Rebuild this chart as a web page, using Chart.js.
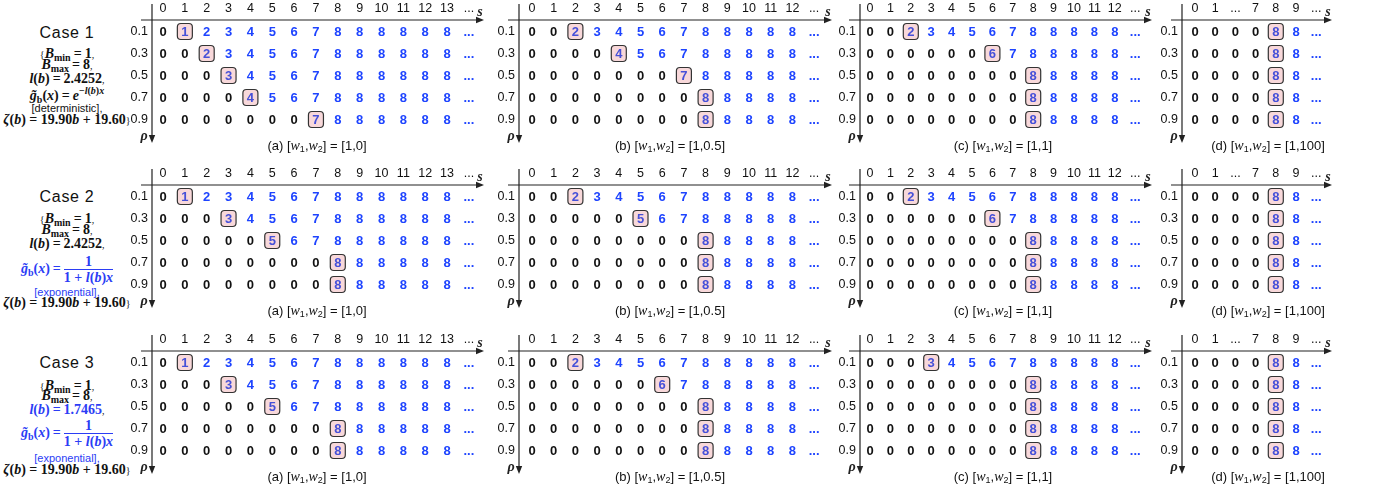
<!DOCTYPE html>
<html>
<head>
<meta charset="utf-8">
<script src="https://cdn.jsdelivr.net/npm/chart.js@4.4.1/dist/chart.umd.min.js"></script>
<style>
  html, body { margin: 0; padding: 0; background: #fff; }
  body { position: relative; width: 1387px; height: 491px; overflow: hidden;
         font-family: "Liberation Sans", Arial, Helvetica, sans-serif; color: #111; }
  canvas.panel { position: absolute; }
  .ln { position: absolute; left: 0; width: 134px; text-align: center; white-space: nowrap; line-height: 16px; height: 16px; }
  .case { font-size: 16px; letter-spacing: 0.7px; }
  .math { font-family: "Liberation Serif", "DejaVu Serif", serif; font-size: 14px; font-weight: bold; }
  .math sub { font-size: 10px; vertical-align: baseline; position: relative; top: 3px; font-weight: bold; }
  .math sup { font-size: 10px; vertical-align: baseline; position: relative; top: -6px; }
  .eq { margin: 0 3px; }
  .sm { font-size: 10px; font-weight: normal; }
  .note { font-size: 11px; }
  .blue { color: #2b3df5; }
  .frac { display: inline-block; vertical-align: middle; text-align: center; }
  .frac .num { display: block; border-bottom: 1.4px solid #2b3df5; line-height: 15px; padding: 0 1px; }
  .frac .den { display: block; line-height: 16px; }
  .cap { position: absolute; font-size: 13px; white-space: nowrap; transform: translateX(-50%); line-height: 14px; }
  .cap i { font-family: "Liberation Serif", "DejaVu Serif", serif; font-size: 14px; }
  .cap sub { font-size: 9px; vertical-align: baseline; position: relative; top: 2px; }
</style>
</head>
<body>

<!-- Case 1 -->
<div class="ln case" style="top:25px">Case 1</div>
<div class="ln math" style="top:46px"><span class="sm">{</span><i>B</i><sub>min</sub><span class="eq">=</span>1<span class="sm">,</span></div>
<div class="ln math" style="top:57px"><i>B</i><sub>max</sub><span class="eq">=</span>8<span class="sm">,</span></div>
<div class="ln math" style="top:71px"><i>l</i>(<i>b</i>)<span class="eq">=</span>2.4252<span class="sm">,</span></div>
<div class="ln math" style="top:88px"><i>g̃</i><sub>b</sub>(<i>x</i>)<span class="eq">=</span><i>e</i><sup>−<i>l</i>(<i>b</i>)<i>x</i></sup></div>
<div class="ln note" style="top:100px">[deterministic],</div>
<div class="ln math" style="top:112px"><i>ζ</i>(<i>b</i>) = 19.90<i>b</i> + 19.60<span class="sm">}</span></div>

<!-- Case 2 -->
<div class="ln case" style="top:189px">Case 2</div>
<div class="ln math" style="top:211px"><span class="sm">{</span><i>B</i><sub>min</sub><span class="eq">=</span>1<span class="sm">,</span></div>
<div class="ln math" style="top:222px"><i>B</i><sub>max</sub><span class="eq">=</span>8<span class="sm">,</span></div>
<div class="ln math" style="top:236px"><i>l</i>(<i>b</i>)<span class="eq">=</span>2.4252<span class="sm">,</span></div>
<div class="ln math blue" style="top:254px"><i>g̃</i><sub>b</sub>(<i>x</i>)<span class="eq">=</span><span class="frac"><span class="num">1</span><span class="den">1 + <i>l</i>(<i>b</i>)<i>x</i></span></span></div>
<div class="ln note blue" style="top:284px">[exponential],</div>
<div class="ln math" style="top:295px"><i>ζ</i>(<i>b</i>) = 19.90<i>b</i> + 19.60<span class="sm">}</span></div>

<!-- Case 3 -->
<div class="ln case" style="top:355px">Case 3</div>
<div class="ln math" style="top:378px"><span class="sm">{</span><i>B</i><sub>min</sub><span class="eq">=</span>1<span class="sm">,</span></div>
<div class="ln math" style="top:388px"><i>B</i><sub>max</sub><span class="eq">=</span>8<span class="sm">,</span></div>
<div class="ln math blue" style="top:402px"><i>l</i>(<i>b</i>)<span class="eq">=</span>1.7465<span class="sm" style="color:#111">,</span></div>
<div class="ln math blue" style="top:418px"><i>g̃</i><sub>b</sub>(<i>x</i>)<span class="eq">=</span><span class="frac"><span class="num">1</span><span class="den">1 + <i>l</i>(<i>b</i>)<i>x</i></span></span></div>
<div class="ln note blue" style="top:450px">[exponential],</div>
<div class="ln math" style="top:462px"><i>ζ</i>(<i>b</i>) = 19.90<i>b</i> + 19.60<span class="sm">}</span></div>

<script>
// ---- axis labels ----
const rhoLabels = ['0.1', '0.3', '0.5', '0.7', '0.9'];
const colsA = ['0','1','2','3','4','5','6','7','8','9','10','11','12','13','...'];
const colsBC = ['0','1','2','3','4','5','6','7','8','9','10','11','12','...'];
const colsD = ['0','1','...','7','8','9','...'];
const captions = ['(a)', '(b)', '(c)', '(d)'];
const weights = ['[1,0]', '[1,0.5]', '[1,1]', '[1,100]'];

// ---- Case 1: batch size chosen for each (rho, s) ----
const case1a = [
  [0,1,2,3,4,5,6,7,8,8,8,8,8,8],
  [0,0,2,3,4,5,6,7,8,8,8,8,8,8],
  [0,0,0,3,4,5,6,7,8,8,8,8,8,8],
  [0,0,0,0,4,5,6,7,8,8,8,8,8,8],
  [0,0,0,0,0,0,0,7,8,8,8,8,8,8]
];
const case1aBox = [1,2,3,4,7];
const case1b = [
  [0,0,2,3,4,5,6,7,8,8,8,8,8],
  [0,0,0,0,4,5,6,7,8,8,8,8,8],
  [0,0,0,0,0,0,0,7,8,8,8,8,8],
  [0,0,0,0,0,0,0,0,8,8,8,8,8],
  [0,0,0,0,0,0,0,0,8,8,8,8,8]
];
const case1bBox = [2,4,7,8,8];
const case1c = [
  [0,0,2,3,4,5,6,7,8,8,8,8,8],
  [0,0,0,0,0,0,6,7,8,8,8,8,8],
  [0,0,0,0,0,0,0,0,8,8,8,8,8],
  [0,0,0,0,0,0,0,0,8,8,8,8,8],
  [0,0,0,0,0,0,0,0,8,8,8,8,8]
];
const case1cBox = [2,6,8,8,8];
const case1d = [
  [0,0,0,0,8,8],
  [0,0,0,0,8,8],
  [0,0,0,0,8,8],
  [0,0,0,0,8,8],
  [0,0,0,0,8,8]
];
const case1dBox = [4,4,4,4,4];

// ---- Case 2 ----
const case2a = [
  [0,1,2,3,4,5,6,7,8,8,8,8,8,8],
  [0,0,0,3,4,5,6,7,8,8,8,8,8,8],
  [0,0,0,0,0,5,6,7,8,8,8,8,8,8],
  [0,0,0,0,0,0,0,0,8,8,8,8,8,8],
  [0,0,0,0,0,0,0,0,8,8,8,8,8,8]
];
const case2aBox = [1,3,5,8,8];
const case2b = [
  [0,0,2,3,4,5,6,7,8,8,8,8,8],
  [0,0,0,0,0,5,6,7,8,8,8,8,8],
  [0,0,0,0,0,0,0,0,8,8,8,8,8],
  [0,0,0,0,0,0,0,0,8,8,8,8,8],
  [0,0,0,0,0,0,0,0,8,8,8,8,8]
];
const case2bBox = [2,5,8,8,8];
const case2c = [
  [0,0,2,3,4,5,6,7,8,8,8,8,8],
  [0,0,0,0,0,0,6,7,8,8,8,8,8],
  [0,0,0,0,0,0,0,0,8,8,8,8,8],
  [0,0,0,0,0,0,0,0,8,8,8,8,8],
  [0,0,0,0,0,0,0,0,8,8,8,8,8]
];
const case2cBox = [2,6,8,8,8];
const case2d = [
  [0,0,0,0,8,8],
  [0,0,0,0,8,8],
  [0,0,0,0,8,8],
  [0,0,0,0,8,8],
  [0,0,0,0,8,8]
];
const case2dBox = [4,4,4,4,4];

// ---- Case 3 ----
const case3a = [
  [0,1,2,3,4,5,6,7,8,8,8,8,8,8],
  [0,0,0,3,4,5,6,7,8,8,8,8,8,8],
  [0,0,0,0,0,5,6,7,8,8,8,8,8,8],
  [0,0,0,0,0,0,0,0,8,8,8,8,8,8],
  [0,0,0,0,0,0,0,0,8,8,8,8,8,8]
];
const case3aBox = [1,3,5,8,8];
const case3b = [
  [0,0,2,3,4,5,6,7,8,8,8,8,8],
  [0,0,0,0,0,0,6,7,8,8,8,8,8],
  [0,0,0,0,0,0,0,0,8,8,8,8,8],
  [0,0,0,0,0,0,0,0,8,8,8,8,8],
  [0,0,0,0,0,0,0,0,8,8,8,8,8]
];
const case3bBox = [2,6,8,8,8];
const case3c = [
  [0,0,0,3,4,5,6,7,8,8,8,8,8],
  [0,0,0,0,0,0,0,0,8,8,8,8,8],
  [0,0,0,0,0,0,0,0,8,8,8,8,8],
  [0,0,0,0,0,0,0,0,8,8,8,8,8],
  [0,0,0,0,0,0,0,0,8,8,8,8,8]
];
const case3cBox = [3,8,8,8,8];
const case3d = [
  [0,0,0,0,8,8],
  [0,0,0,0,8,8],
  [0,0,0,0,8,8],
  [0,0,0,0,8,8],
  [0,0,0,0,8,8]
];
const case3dBox = [4,4,4,4,4];

const grids = [
  [[case1a, case1aBox], [case1b, case1bBox], [case1c, case1cBox], [case1d, case1dBox]],
  [[case2a, case2aBox], [case2b, case2bBox], [case2c, case2cBox], [case2d, case2dBox]],
  [[case3a, case3aBox], [case3b, case3bBox], [case3c, case3cBox], [case3d, case3dBox]]
];
const columnSets = [colsA, colsBC, colsBC, colsD];

// ---- layout of one row of panels (page pixels) ----
const rowTops = [0, 165, 331];
const panelGeom = [
  { axisX: 152, tipX: 484, firstCol: 163, step: 21.85, capX: 317 },
  { axisX: 519, tipX: 832, firstCol: 532, step: 21.7,  capX: 670 },
  { axisX: 860, tipX: 1152, firstCol: 870, step: 20.4, capX: 1003 },
  { axisX: 1182, tipX: 1332, firstCol: 1195, step: 20.2, capX: 1268 }
];
const Y_AXIS_W = 34, X_AXIS_H = 20, CANVAS_H = 160, AREA_BOTTOM = 142;
const ROW_FIRST = 12, ROW_STEP = 22;

const COLORS = { pre: '#111111', post: '#1e44ff', boxText: '#4650d8', boxFill: '#f8d8da', boxLine: '#333333', axis: '#222222' };
const SANS = '"Liberation Sans", Arial, Helvetica, sans-serif';
const SERIF = '"Liberation Serif", "DejaVu Serif", serif';

function arrowHead(ctx, x, y, dir) {
  ctx.beginPath();
  if (dir === 'right') { ctx.moveTo(x, y); ctx.lineTo(x - 8, y - 3.2); ctx.lineTo(x - 8, y + 3.2); }
  else { ctx.moveTo(x, y); ctx.lineTo(x - 3.2, y - 8); ctx.lineTo(x + 3.2, y - 8); }
  ctx.closePath();
  ctx.fill();
}

// draws the cell values, the highlighted cells and the arrowed axes
const cellPlugin = {
  id: 'cells',
  afterDatasetsDraw(chart) {
    const ctx = chart.ctx;
    const area = chart.chartArea;
    ctx.save();
    // axes with arrows
    ctx.strokeStyle = COLORS.axis; ctx.fillStyle = COLORS.axis; ctx.lineWidth = 1.2;
    ctx.beginPath();
    ctx.moveTo(area.left - 11, area.top); ctx.lineTo(area.right - 4, area.top);
    ctx.moveTo(area.left, area.top - 16); ctx.lineTo(area.left, area.bottom - 4);
    ctx.stroke();
    arrowHead(ctx, area.right, area.top, 'right');
    arrowHead(ctx, area.left, area.bottom + 1, 'down');
    ctx.font = 'italic bold 14px ' + SERIF;
    ctx.textAlign = 'center'; ctx.textBaseline = 'alphabetic';
    ctx.fillText('s', area.right - 4, area.top - 4);
    ctx.fillText('ρ', area.left - 8, area.bottom - 2);

    // cells
    chart.data.datasets.forEach((ds, di) => {
      const meta = chart.getDatasetMeta(di);
      meta.data.forEach((pt, i) => {
        const cell = ds.data[i];
        const x = pt.x, y = pt.y;
        if (cell.kind === 'box') {
          const w = 15, h = 16;
          ctx.beginPath();
          ctx.roundRect(x - w / 2, y - h / 2 - 0.5, w, h, 3.5);
          ctx.fillStyle = COLORS.boxFill; ctx.fill();
          ctx.strokeStyle = COLORS.boxLine; ctx.lineWidth = 1.2; ctx.stroke();
        }
        ctx.fillStyle = cell.kind === 'pre' ? COLORS.pre : (cell.kind === 'box' ? COLORS.boxText : COLORS.post);
        ctx.font = 'bold 13px ' + SANS;
        ctx.textAlign = 'center'; ctx.textBaseline = 'middle';
        ctx.fillText(String(cell.v), x, y + 0.5);
      });
    });
    ctx.restore();
  }
};

function buildDatasets(values, boxes, nCols) {
  return values.map((row, r) => {
    const pts = row.map((v, c) => ({ x: c, y: r, v, kind: c < boxes[r] ? 'pre' : (c === boxes[r] ? 'box' : 'post') }));
    pts.push({ x: nCols - 1, y: r, v: '...', kind: 'post' });
    return { data: pts, pointRadius: 0, pointHoverRadius: 0, showLine: false };
  });
}

function makePanel(rowIdx, colIdx) {
  const g = panelGeom[colIdx];
  const cols = columnSets[colIdx];
  const [values, boxes] = grids[rowIdx][colIdx];
  const canvasLeft = g.axisX - Y_AXIS_W;
  const canvasW = g.tipX - canvasLeft + 6;
  const top = rowTops[rowIdx];

  const cv = document.createElement('canvas');
  cv.className = 'panel';
  cv.width = canvasW; cv.height = CANVAS_H;
  cv.style.left = canvasLeft + 'px'; cv.style.top = top + 'px';
  cv.style.width = canvasW + 'px'; cv.style.height = CANVAS_H + 'px';
  document.body.appendChild(cv);

  const areaW = g.tipX - g.axisX;
  const xMin = -(g.firstCol - g.axisX) / g.step;
  const xMax = xMin + areaW / g.step;
  const areaH = AREA_BOTTOM - X_AXIS_H;
  const yMin = -ROW_FIRST / ROW_STEP;
  const yMax = yMin + areaH / ROW_STEP;

  new Chart(cv, {
    type: 'scatter',
    data: { datasets: buildDatasets(values, boxes, cols.length) },
    options: {
      responsive: false, animation: false, events: [],
      layout: { padding: { left: 0, top: 0, right: canvasW - Y_AXIS_W - areaW, bottom: CANVAS_H - AREA_BOTTOM } },
      plugins: { legend: { display: false }, tooltip: { enabled: false } },
      scales: {
        x: {
          type: 'linear', position: 'top', min: xMin, max: xMax,
          grid: { display: false, drawTicks: false }, border: { display: false },
          afterBuildTicks: s => { s.ticks = cols.map((_, i) => ({ value: i })); },
          afterFit: s => { s.height = X_AXIS_H; },
          ticks: { autoSkip: false, maxRotation: 0, padding: 4, color: '#111',
                   font: { family: SANS, size: 12.5 }, callback: v => cols[v] }
        },
        y: {
          type: 'linear', reverse: true, min: yMin, max: yMax,
          grid: { display: false, drawTicks: false }, border: { display: false },
          afterBuildTicks: s => { s.ticks = rhoLabels.map((_, i) => ({ value: i })); },
          afterFit: s => { s.width = Y_AXIS_W; },
          ticks: { autoSkip: false, padding: 4, color: '#111',
                   font: { family: SANS, size: 12.5 }, callback: v => rhoLabels[v] }
        }
      }
    },
    plugins: [cellPlugin]
  });

  const cap = document.createElement('div');
  cap.className = 'cap';
  cap.style.left = g.capX + 'px';
  cap.style.top = (top + 139) + 'px';
  cap.innerHTML = captions[colIdx] + ' [<i>w</i><sub>1</sub>,<i>w</i><sub>2</sub>] = ' + weights[colIdx];
  document.body.appendChild(cap);
}

for (let r = 0; r < 3; r++) {
  for (let c = 0; c < 4; c++) makePanel(r, c);
}
</script>
</body>
</html>
